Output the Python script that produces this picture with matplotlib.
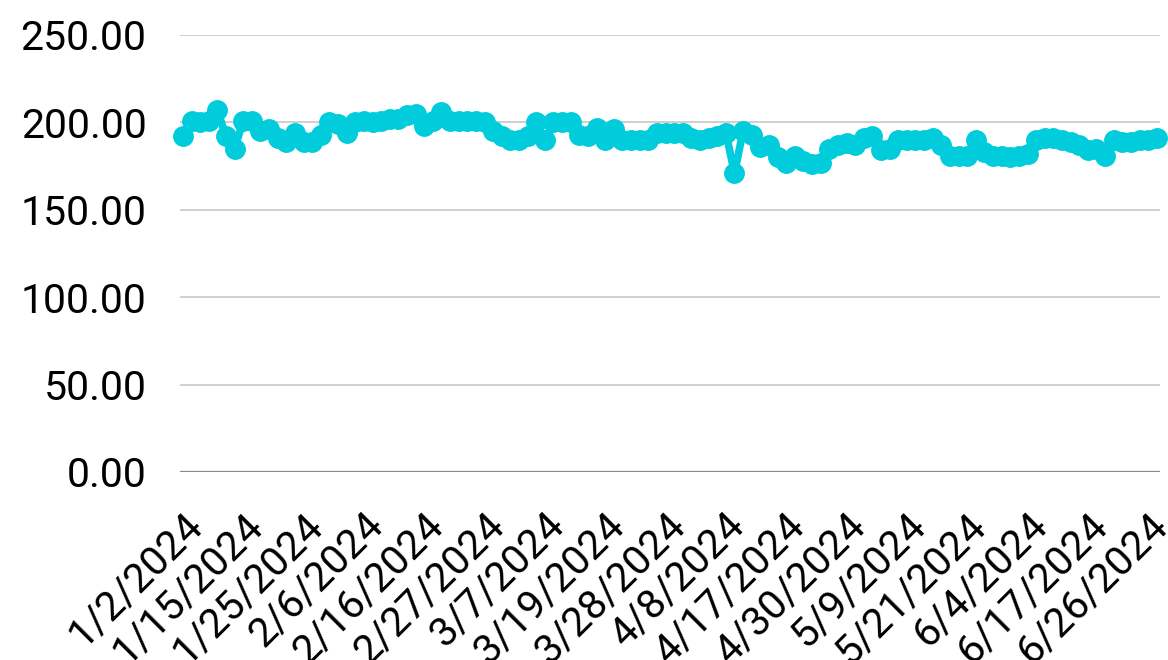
import pandas as pd
import matplotlib
matplotlib.use("Agg")
import matplotlib.pyplot as plt
import matplotlib.transforms as mtransforms

plt.rcParams['font.family'] = ['Roboto', 'DejaVu Sans']

# trading days shown in the sheet (some weekdays have no row)
missing_days = ['2024-01-08', '2024-01-12', '2024-01-22', '2024-02-02', '2024-02-12',
                '2024-03-11', '2024-04-22', '2024-04-26', '2024-05-13', '2024-05-27',
                '2024-05-31', '2024-06-03', '2024-06-07', '2024-06-14']
days = pd.bdate_range('2024-01-02', '2024-06-27')
days = days[~days.isin(pd.to_datetime(missing_days))]
dates = [f"{d.month}/{d.day}/{d.year}" for d in days]

values = [
    192, 201, 200, 201, 207, 192, 185, 201, 201, 195,
    196, 191, 189, 194, 189, 189, 193, 200, 199, 194,
    200, 201, 200, 201, 202, 202, 204, 205, 198, 201,
    206, 201, 201, 201, 201, 200, 195, 192, 190, 190,
    192, 200, 190, 200, 200, 200, 193, 192, 197, 190,
    196, 190, 190, 190, 190, 194, 194, 194, 194, 191,
    190, 191, 192, 194, 171, 195, 193, 186, 187, 180,
    177, 181, 178, 176, 177, 185, 187, 188, 187, 191,
    192, 184, 185, 190, 190, 190, 190, 191, 187, 181,
    181, 181, 190, 183, 181, 181, 180, 181, 182, 190,
    191, 191, 190, 189, 187, 184, 185, 181, 190, 189,
    189, 190, 190, 191,
]
label_step = 7

fig = plt.figure(figsize=(11.68, 6.6), dpi=100)
ax = fig.add_axes([0.154, 0.285, 0.839, 0.662])

x = list(range(len(values)))
ax.plot(x, values, color='#00CCDC', lw=5.5, marker='o', ms=14, clip_on=False, zorder=3)

ax.set_ylim(0, 250)
ax.set_yticks([0, 50, 100, 150, 200, 250])
ax.set_yticklabels([f"{v:.2f}" for v in [0, 50, 100, 150, 200, 250]])
ax.set_xlim(-0.35, len(values) - 1 + 0.35)
ticks = x[::label_step]
ax.set_xticks(ticks)
ax.set_xticklabels([])

# rotated date labels, hung below the zero line
off = mtransforms.ScaledTranslation(13 / 100, -47 / 100, fig.dpi_scale_trans)
for i in ticks:
    ax.text(i, 0, dates[i], transform=ax.transData + off, rotation=45,
            ha='right', va='center', rotation_mode='anchor', fontsize=29.5,
            color='#000000', clip_on=False)

ax.grid(axis='y', color='#cccccc', lw=1.3)
ax.axhline(0, color='#888888', lw=1.6, zorder=2)
for s in ax.spines.values():
    s.set_visible(False)
ax.tick_params(axis='both', length=0, labelsize=29.5, colors='#000000')
ax.tick_params(axis='y', pad=24)

fig.savefig('out.png', dpi=100)
